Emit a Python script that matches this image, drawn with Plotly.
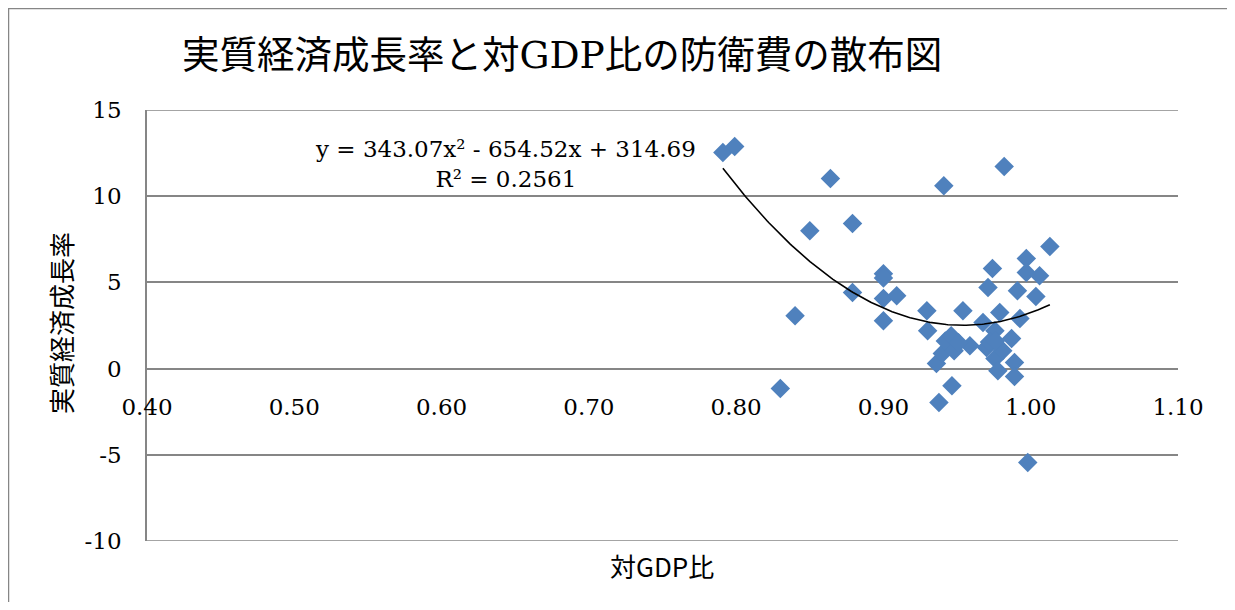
import numpy as np
import plotly.graph_objects as go

# 対GDP比 (x) and 実質経済成長率 (y)
gdp_ratio = [0.791, 0.799, 0.830, 0.840, 0.850, 0.864, 0.879, 0.879, 0.900, 0.900,
             0.900, 0.909, 0.900, 0.9295, 0.930, 0.936, 0.9377, 0.940, 0.942, 0.941,
             0.946, 0.948, 0.9465, 0.954, 0.9587, 0.9676, 0.970, 0.971, 0.974, 0.9757,
             0.9757, 0.9777, 0.979, 0.981, 0.982, 0.987, 0.989, 0.989, 0.991, 0.9927,
             0.997, 0.997, 0.998, 1.0035, 1.006, 1.013, 0.951, 0.972, 0.976]
growth = [12.53, 12.88, -1.16, 3.07, 8.00, 11.02, 8.41, 4.41, 5.50, 5.25,
          4.06, 4.23, 2.78, 3.36, 2.20, 0.30, -1.97, 0.87, 1.60, 10.60,
          1.90, 1.04, -0.99, 3.36, 1.33, 2.67, 1.22, 4.70, 5.80, 2.20,
          0.58, -0.12, 3.25, 1.04, 11.72, 1.74, 0.35, -0.46, 4.52, 2.90,
          6.38, 5.57, -5.45, 4.18, 5.39, 7.08, 1.50, 1.55, 1.60]

# trendline coefficients (from the chart's equation label)
trend_coef = [343.07, -654.52, 314.69]
r_squared = 0.2561

x_ticks = [0.40, 0.50, 0.60, 0.70, 0.80, 0.90, 1.00, 1.10]
y_ticks = [-10, -5, 0, 5, 10, 15]
y_tick_text = ["-10", "-5", "0", "5", "10", "15"]

title_text = "実質経済成長率と対GDP比の防衛費の散布図"
x_title = "対GDP比"
y_title = "実質経済成長率"

# figure pixel geometry (page has an 8px body margin)
OFF = 8
W, H = 1223, 594
L, R, T, B = 147 - OFF, 1178 - OFF, 110 - OFF, 541 - OFF
pw, ph = R - L, B - T

def px(xp):
    return (xp - OFF - L) / pw

def py(yp):
    return (B - (yp - OFF)) / ph

serif = "DejaVu Serif, Noto Sans CJK JP"
cjk = "Noto Sans CJK JP"
grid = "#868686"

xs = np.linspace(min(gdp_ratio), max(gdp_ratio), 200)
ys = np.polyval(trend_coef, xs)

fig = go.Figure()
fig.add_trace(go.Scatter(x=gdp_ratio, y=growth, mode="markers",
                         marker=dict(symbol="diamond", size=15, color="#4F81BD",
                                     line=dict(width=0)),
                         showlegend=False, hoverinfo="x+y"))
fig.add_trace(go.Scatter(x=xs, y=ys, mode="lines",
                         line=dict(color="black", width=1.6),
                         showlegend=False, hoverinfo="skip"))

y_min, y_max = min(y_ticks), max(y_ticks)
zero_pos = (0 - y_min) / (y_max - y_min)

fig.update_layout(
    width=W, height=H,
    margin=dict(l=L, r=W - R, t=T, b=H - B),
    paper_bgcolor="white", plot_bgcolor="white",
    xaxis=dict(range=[min(x_ticks), max(x_ticks)], tickvals=x_ticks,
               ticktext=[f"{v:.2f}" for v in x_ticks],
               showgrid=False, zeroline=False, showline=False,
               anchor="free", position=zero_pos,
               ticks="", ticklabelstandoff=22,
               tickfont=dict(family=serif, size=23, color="black")),
    yaxis=dict(range=[y_min, y_max], tickvals=y_ticks, ticktext=y_tick_text,
               showgrid=True, gridcolor=grid, gridwidth=1.6,
               zeroline=False, showline=True, linecolor=grid, linewidth=1.6,
               ticks="", ticklabelstandoff=19,
               tickfont=dict(family=serif, size=23, color="black")),
    font=dict(family=serif, color="black"),
)

# gridlines at the range edges (top and bottom)
for yv in (y_min, y_max):
    fig.add_shape(type="line", xref="paper", yref="y", x0=0, x1=1, y0=yv, y1=yv,
                  line=dict(color=grid, width=1.6), layer="below")

# axis titles
fig.add_annotation(text=x_title, xref="paper", yref="paper",
                   x=px(662), y=py(565), xanchor="center", yanchor="middle",
                   showarrow=False, font=dict(family=cjk, size=26, color="black"))
fig.add_annotation(text=y_title, xref="paper", yref="paper",
                   x=px(60), y=py(323), xanchor="center", yanchor="middle",
                   textangle=-90, showarrow=False,
                   font=dict(family=cjk, size=26, color="black"))
# title
fig.add_annotation(text=title_text, xref="paper", yref="paper",
                   x=px(180), y=py(55), xanchor="left", yanchor="middle",
                   showarrow=False, font=dict(family=serif, size=37.5, color="black"))
# trendline equation label
a, b, c = trend_coef
eq = f"y = {a:.2f}x² - {abs(b):.2f}x + {c:.2f}<br>R² = {r_squared:.4f}"
fig.add_annotation(text=eq, xref="paper", yref="paper",
                   x=px(505), y=py(164), xanchor="center", yanchor="middle",
                   showarrow=False, align="center",
                   font=dict(family=serif, size=23, color="black"))

# outer chart border
fig.add_shape(type="rect", xref="paper", yref="paper",
              x0=px(8.5), x1=px(1230), y0=py(625), y1=py(8.5),
              line=dict(color=grid, width=1.5), fillcolor="rgba(0,0,0,0)", layer="below")

fig.write_html("out.html")
